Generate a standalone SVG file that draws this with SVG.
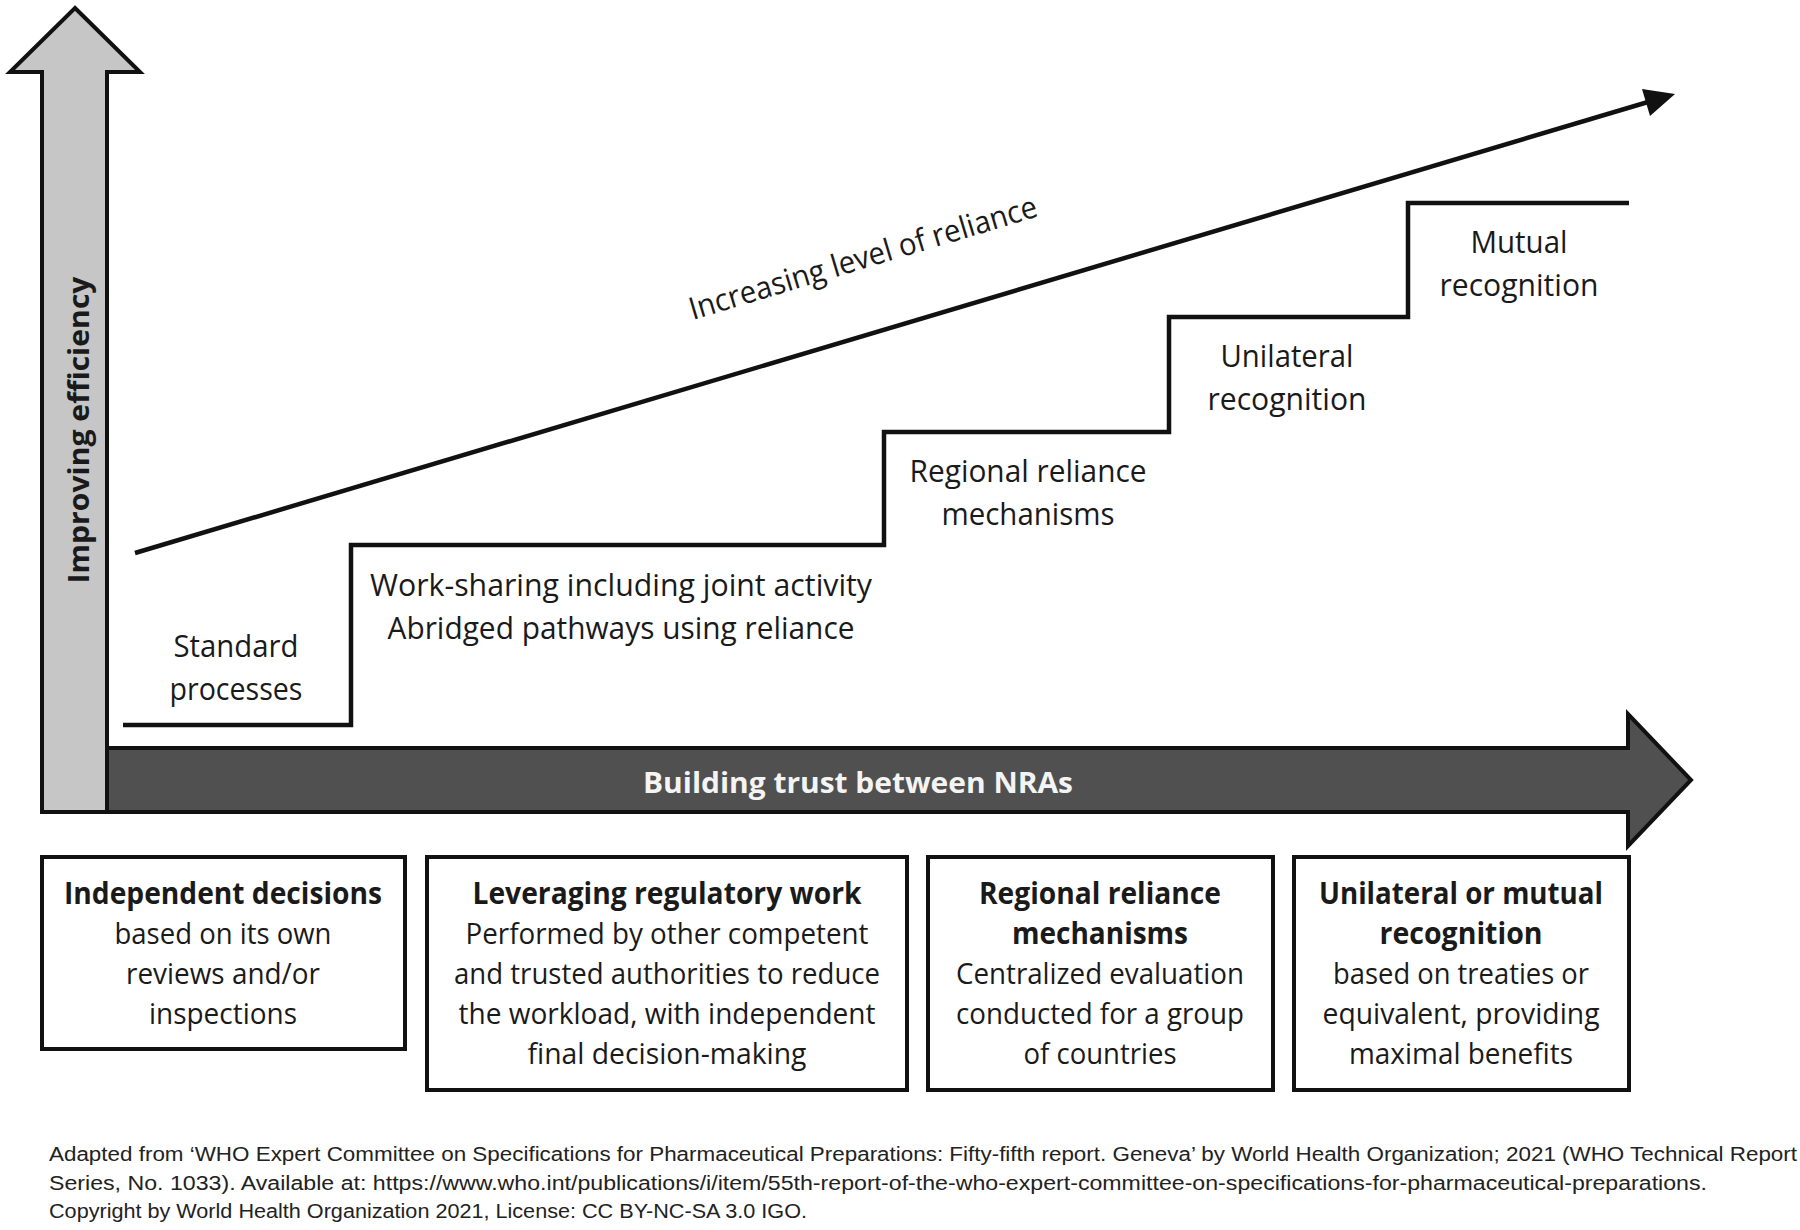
<svg xmlns="http://www.w3.org/2000/svg" width="1800" height="1230" viewBox="0 0 1800 1230">
<style>
  .t { font-family: "Open Sans", "Noto Sans", sans-serif; fill: #1a1a1a; }
  .lbl { font-size: 31px; text-anchor: middle; }
  .box { fill: #ffffff; stroke: #111111; stroke-width: 4; }
  .bt { font-size: 30px; text-anchor: middle; }
  .b { font-weight: 700; }
  .foot { font-family: "Liberation Sans", Arial, sans-serif; font-size: 20px; fill: #222222; }
  .line { fill: none; stroke: #111111; stroke-width: 4.5; }
</style>
<rect x="0" y="0" width="1800" height="1230" fill="#ffffff"/>

<g id="efficiency-arrow">
  <polygon points="75,8 140,72 107,72 107,812 42,812 42,72 10,72" fill="#c6c6c6" stroke="#111111" stroke-width="4" stroke-linejoin="miter"/>
  <text class="t b" font-size="28" text-anchor="middle" transform="translate(89,430) rotate(-90)" textLength="307" lengthAdjust="spacingAndGlyphs">Improving efficiency</text>
</g>

<g id="trust-arrow">
  <polygon points="107,748 1628,748 1628,714 1691,780 1628,846 1628,812 107,812" fill="#505050" stroke="#111111" stroke-width="4" stroke-linejoin="miter"/>
  <text class="t b" x="858" y="793" font-size="29" text-anchor="middle" style="fill:#f4f4f4" textLength="430" lengthAdjust="spacingAndGlyphs">Building trust between NRAs</text>
</g>

<g id="connectors">
  <polyline class="line" points="123,725 351,725 351,545 884,545 884,432 1169,432 1169,317 1408,317 1408,203 1629,203"/>
  <line class="line" x1="135" y1="553" x2="1648" y2="102"/>
  <polygon points="1675,94 1642,89 1650,116" fill="#111111"/>
</g>

<g id="reliance-label">
  <text class="t" font-size="31" text-anchor="middle" transform="translate(866,268) rotate(-16.7)" textLength="362" lengthAdjust="spacingAndGlyphs">Increasing level of reliance</text>
</g>

<g id="step-standard">
  <text class="t lbl" x="236" y="657" textLength="125" lengthAdjust="spacingAndGlyphs">Standard</text>
  <text class="t lbl" x="236" y="700" textLength="133" lengthAdjust="spacingAndGlyphs">processes</text>
</g>
<g id="step-worksharing">
  <text class="t lbl" x="621" y="596" textLength="502" lengthAdjust="spacingAndGlyphs">Work-sharing including joint activity</text>
  <text class="t lbl" x="621" y="639" textLength="467" lengthAdjust="spacingAndGlyphs">Abridged pathways using reliance</text>
</g>
<g id="step-regional">
  <text class="t lbl" x="1028" y="482" textLength="237" lengthAdjust="spacingAndGlyphs">Regional reliance</text>
  <text class="t lbl" x="1028" y="525" textLength="173" lengthAdjust="spacingAndGlyphs">mechanisms</text>
</g>
<g id="step-unilateral">
  <text class="t lbl" x="1287" y="367" textLength="133" lengthAdjust="spacingAndGlyphs">Unilateral</text>
  <text class="t lbl" x="1287" y="410" textLength="159" lengthAdjust="spacingAndGlyphs">recognition</text>
</g>
<g id="step-mutual">
  <text class="t lbl" x="1519" y="253" textLength="97" lengthAdjust="spacingAndGlyphs">Mutual</text>
  <text class="t lbl" x="1519" y="296" textLength="159" lengthAdjust="spacingAndGlyphs">recognition</text>
</g>

<g id="box-independent">
  <rect class="box" x="42" y="857" width="363" height="192"/>
  <text class="t bt b" x="223" y="904" textLength="318" lengthAdjust="spacingAndGlyphs">Independent decisions</text>
  <text class="t bt" x="223" y="944" textLength="217" lengthAdjust="spacingAndGlyphs">based on its own</text>
  <text class="t bt" x="223" y="984" textLength="194" lengthAdjust="spacingAndGlyphs">reviews and/or</text>
  <text class="t bt" x="223" y="1024" textLength="148" lengthAdjust="spacingAndGlyphs">inspections</text>
</g>

<g id="box-leveraging">
  <rect class="box" x="427" y="857" width="480" height="233"/>
  <text class="t bt b" x="667" y="904" textLength="389" lengthAdjust="spacingAndGlyphs">Leveraging regulatory work</text>
  <text class="t bt" x="667" y="944" textLength="403" lengthAdjust="spacingAndGlyphs">Performed by other competent</text>
  <text class="t bt" x="667" y="984" textLength="426" lengthAdjust="spacingAndGlyphs">and trusted authorities to reduce</text>
  <text class="t bt" x="667" y="1024" textLength="417" lengthAdjust="spacingAndGlyphs">the workload, with independent</text>
  <text class="t bt" x="667" y="1064" textLength="279" lengthAdjust="spacingAndGlyphs">final decision-making</text>
</g>

<g id="box-regional">
  <rect class="box" x="928" y="857" width="345" height="233"/>
  <text class="t bt b" x="1100" y="904" textLength="242" lengthAdjust="spacingAndGlyphs">Regional reliance</text>
  <text class="t bt b" x="1100" y="944" textLength="176" lengthAdjust="spacingAndGlyphs">mechanisms</text>
  <text class="t bt" x="1100" y="984" textLength="288" lengthAdjust="spacingAndGlyphs">Centralized evaluation</text>
  <text class="t bt" x="1100" y="1024" textLength="288" lengthAdjust="spacingAndGlyphs">conducted for a group</text>
  <text class="t bt" x="1100" y="1064" textLength="153" lengthAdjust="spacingAndGlyphs">of countries</text>
</g>

<g id="box-recognition">
  <rect class="box" x="1294" y="857" width="335" height="233"/>
  <text class="t bt b" x="1461" y="904" textLength="284" lengthAdjust="spacingAndGlyphs">Unilateral or mutual</text>
  <text class="t bt b" x="1461" y="944" textLength="163" lengthAdjust="spacingAndGlyphs">recognition</text>
  <text class="t bt" x="1461" y="984" textLength="256" lengthAdjust="spacingAndGlyphs">based on treaties or</text>
  <text class="t bt" x="1461" y="1024" textLength="277" lengthAdjust="spacingAndGlyphs">equivalent, providing</text>
  <text class="t bt" x="1461" y="1064" textLength="224" lengthAdjust="spacingAndGlyphs">maximal benefits</text>
</g>

<g id="footer">
  <text class="foot" x="49" y="1161" textLength="1748" lengthAdjust="spacingAndGlyphs">Adapted from ‘WHO Expert Committee on Specifications for Pharmaceutical Preparations: Fifty-fifth report. Geneva’ by World Health Organization; 2021 (WHO Technical Report</text>
  <text class="foot" x="49" y="1190" textLength="1658" lengthAdjust="spacingAndGlyphs">Series, No. 1033). Available at: https://www.who.int/publications/i/item/55th-report-of-the-who-expert-committee-on-specifications-for-pharmaceutical-preparations.</text>
  <text class="foot" x="49" y="1218" textLength="758" lengthAdjust="spacingAndGlyphs">Copyright by World Health Organization 2021, License: CC BY-NC-SA 3.0 IGO.</text>
</g>
</svg>
